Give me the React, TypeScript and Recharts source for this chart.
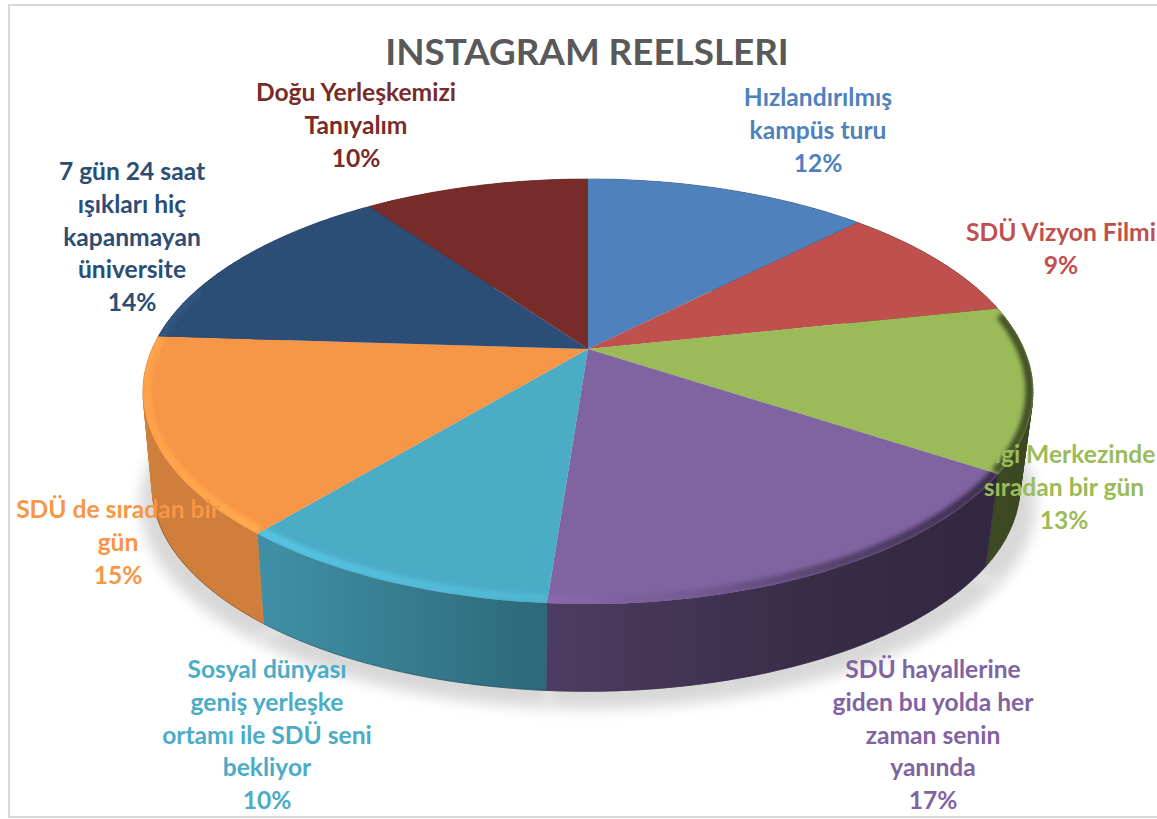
import React from "react";
import { PieChart, Pie } from "recharts";

const categories = [
  ["Hızlandırılmış", "kampüs turu"],
  ["SDÜ Vizyon Filmi"],
  ["Bilgi Merkezinde", "sıradan bir gün"],
  ["SDÜ hayallerine", "giden bu yolda her", "zaman senin", "yanında"],
  ["Sosyal dünyası", "geniş yerleşke", "ortamı ile SDÜ seni", "bekliyor"],
  ["SDÜ de sıradan bir", "gün"],
  ["7 gün 24 saat", "ışıkları hiç", "kapanmayan", "üniversite"],
  ["Doğu Yerleşkemizi", "Tanıyalım"],
];
const values = [12.49, 9.2, 12.51, 17.0, 9.9, 14.9, 14.1, 9.9];
const colors = ["#4F81BD", "#C0504D", "#9BBB59", "#8064A2", "#4BACC6", "#F79646", "#2C4D75", "#772C2A"];
const labelCenterX = [818, 1061, 1064, 933, 267, 118, 132, 356];
const labelFirstBaseline = [106, 241, 463, 678, 678, 518, 180, 101];

const rows = values.map((value, i) => ({ name: categories[i].join(" "), value, fill: colors[i], idx: i }));

const FONT = "Lato, 'Open Sans', sans-serif";
const K = 0.2;
const VY = 204 / 436;
const DEPTH = 97;
const BOTTOM_DX = -2;
const BOTTOM_SX = 0.975;
const BOTTOM_SY = 0.962;

function project(cx: number, cy: number, R: number, theta: number, sx = 1, sy = 1): [number, number] {
  const t = (theta * Math.PI) / 180;
  const s = Math.sin(t);
  const c = -Math.cos(t);
  const d = 1 - K * c;
  return [cx + (R * sx * s) / d, cy + (R * VY * sy * c) / d];
}
function arc(cx: number, cy: number, R: number, a: number, b: number, sx = 1, sy = 1) {
  const n = Math.max(2, Math.ceil(Math.abs(b - a)));
  const pts: [number, number][] = [];
  for (let i = 0; i <= n; i++) pts.push(project(cx, cy, R, a + ((b - a) * i) / n, sx, sy));
  return pts;
}
const toD = (pts: [number, number][]) => pts.map((p, i) => `${i ? "L" : "M"}${p[0].toFixed(1)} ${p[1].toFixed(1)}`).join(" ");

function shade(hex: string, m: number) {
  const n = parseInt(hex.slice(1), 16);
  const f = (v: number) => Math.min(255, Math.round(v * m));
  return `rgb(${f((n >> 16) & 255)},${f((n >> 8) & 255)},${f(n & 255)})`;
}

const WALL_STOPS: [number, number][] = [[0, 0.84], [0.14, 0.84], [0.46, 0.6], [0.75, 0.44], [1, 0.38]];
const RIM_STOPS: [number, number][] = [[0, 1.08], [0.14, 1.14], [0.46, 1.06], [0.62, 0.9], [0.78, 0.66], [1, 0.42]];

function Grad({ id, hex, stops, x1, x2 }: any) {
  return (
    <linearGradient id={id} gradientUnits="userSpaceOnUse" x1={x1} x2={x2} y1={0} y2={0}>
      {stops.map(([o, m]: [number, number]) => (
        <stop key={o} offset={o} stopColor={shade(hex, m)} />
      ))}
    </linearGradient>
  );
}

function ShadowShape(p: any) {
  const a = 90 - p.startAngle;
  const b = 90 - p.endAngle;
  const oy = DEPTH + 17;
  const pts = [[p.cx, p.cy + oy], ...arc(p.cx, p.cy + oy, p.outerRadius, a, b, 1.005, BOTTOM_SY)] as [number, number][];
  return (
    <g>
      <defs>
        <filter id={`shadow-${p.idx}`} filterUnits="userSpaceOnUse" x={0} y={0} width={1157} height={819}>
          <feGaussianBlur stdDeviation="7" />
        </filter>
      </defs>
      <path d={toD(pts) + " Z"} fill="#d8d8d8" stroke="#d8d8d8" filter={`url(#shadow-${p.idx})`} />
    </g>
  );
}

// The wall is the sweep of the rim between the top and bottom circles, one quad per step,
// all wound the same way so that the union fills under nonzero.
function sweep(top: [number, number][], bottom: [number, number][]) {
  const parts: string[] = [];
  for (let i = 0; i < top.length - 1; i++) {
    const q: [number, number][] = [top[i], top[i + 1], bottom[i + 1], bottom[i]];
    let area = 0;
    for (let k = 0; k < 4; k++) {
      const [x1, y1] = q[k];
      const [x2, y2] = q[(k + 1) % 4];
      area += x1 * y2 - x2 * y1;
    }
    parts.push(toD(area >= 0 ? q : [...q].reverse()) + " Z");
  }
  return parts.join(" ");
}

function WallShape(p: any) {
  const a = 90 - p.startAngle;
  const b = 90 - p.endAngle;
  const top = arc(p.cx, p.cy, p.outerRadius, a, b);
  const bottom = arc(p.cx + BOTTOM_DX, p.cy + DEPTH, p.outerRadius, a, b, BOTTOM_SX, BOTTOM_SY);
  const la = Math.max(a, 115);
  const lb = Math.min(b, 255);
  const id = `wall-${p.idx}`;
  return (
    <g>
      <defs>
        <Grad id={id} hex={colors[p.idx]} stops={WALL_STOPS} x1={p.cx - 447} x2={p.cx + 445} />
      </defs>
      <path d={sweep(top, bottom)} fill={`url(#${id})`} stroke={`url(#${id})`} strokeWidth={0.6} />
      {lb > la && (
        <path
          d={toD(arc(p.cx + BOTTOM_DX, p.cy + DEPTH, p.outerRadius, la, lb, BOTTOM_SX, BOTTOM_SY))}
          fill="none"
          stroke={shade(colors[p.idx], 0.35)}
          strokeWidth={1}
          opacity={0.45}
        />
      )}
    </g>
  );
}

function TopShape(p: any) {
  const a = 90 - p.startAngle;
  const b = 90 - p.endAngle;
  const outline = [[p.cx, p.cy], ...arc(p.cx, p.cy, p.outerRadius, a, b)] as [number, number][];
  const ra = Math.max(a, 80);
  const rb = Math.min(b, 288);
  const hasRim = rb > ra;
  const id = `rim-${p.idx}`;
  return (
    <g>
      <defs>
        <clipPath id={`clip-${p.idx}`}>
          <path d={toD(outline) + " Z"} />
        </clipPath>
        <Grad id={id} hex={colors[p.idx]} stops={RIM_STOPS} x1={p.cx - 447} x2={p.cx + 445} />
        <filter id={`blur-${p.idx}`} filterUnits="userSpaceOnUse" x={0} y={0} width={1157} height={819}>
          <feGaussianBlur stdDeviation="2" />
        </filter>
      </defs>
      <path d={toD(outline) + " Z"} fill={colors[p.idx]} />
      {hasRim && (
        <g clipPath={`url(#clip-${p.idx})`}>
          <path
            d={toD(arc(p.cx, p.cy, p.outerRadius, ra, rb, 0.993, 0.984))}
            fill="none"
            stroke={`url(#${id})`}
            strokeWidth={9}
            filter={`url(#blur-${p.idx})`}
          />
        </g>
      )}
    </g>
  );
}

function renderLabel(p: any) {
  const i = p.idx ?? p.payload?.idx ?? p.index;
  const lines = [...categories[i], `${Math.round(p.percent * 100)}%`];
  return (
    <text
      key={i}
      x={labelCenterX[i]}
      y={labelFirstBaseline[i]}
      textAnchor="middle"
      fill={colors[i]}
      fontFamily={FONT}
      fontWeight={700}
      fontSize={24.6}
    >
      {lines.map((l, k) => (
        <tspan key={k} x={labelCenterX[i]} y={labelFirstBaseline[i] + k * 32.8}>
          {l}
        </tspan>
      ))}
    </text>
  );
}

export default function App() {
  const common = {
    data: rows,
    dataKey: "value",
    nameKey: "name",
    cx: 588,
    cy: 349,
    outerRadius: 436,
    startAngle: 90,
    endAngle: -270,
    stroke: "none",
    isAnimationActive: false,
  };
  return (
    <div style={{ position: "absolute", left: 0, top: 0, width: 1157, height: 819, overflow: "hidden", background: "#fff" }}>
      <PieChart width={1157} height={819} margin={{ top: 0, right: 0, bottom: 0, left: 0 }}>
        <rect x={9} y={5} width={1160} height={812} fill="none" stroke="#d9d9d9" strokeWidth={2} />
        <text x={587} y={65} textAnchor="middle" fill="#595959" fontFamily={FONT} fontWeight={700} fontSize={36.8}>
          INSTAGRAM REELSLERI
        </text>
        <Pie {...common} shape={ShadowShape} />
        <Pie {...common} shape={WallShape} />
        <Pie {...common} shape={TopShape} label={renderLabel} labelLine={false} />
      </PieChart>
    </div>
  );
}
